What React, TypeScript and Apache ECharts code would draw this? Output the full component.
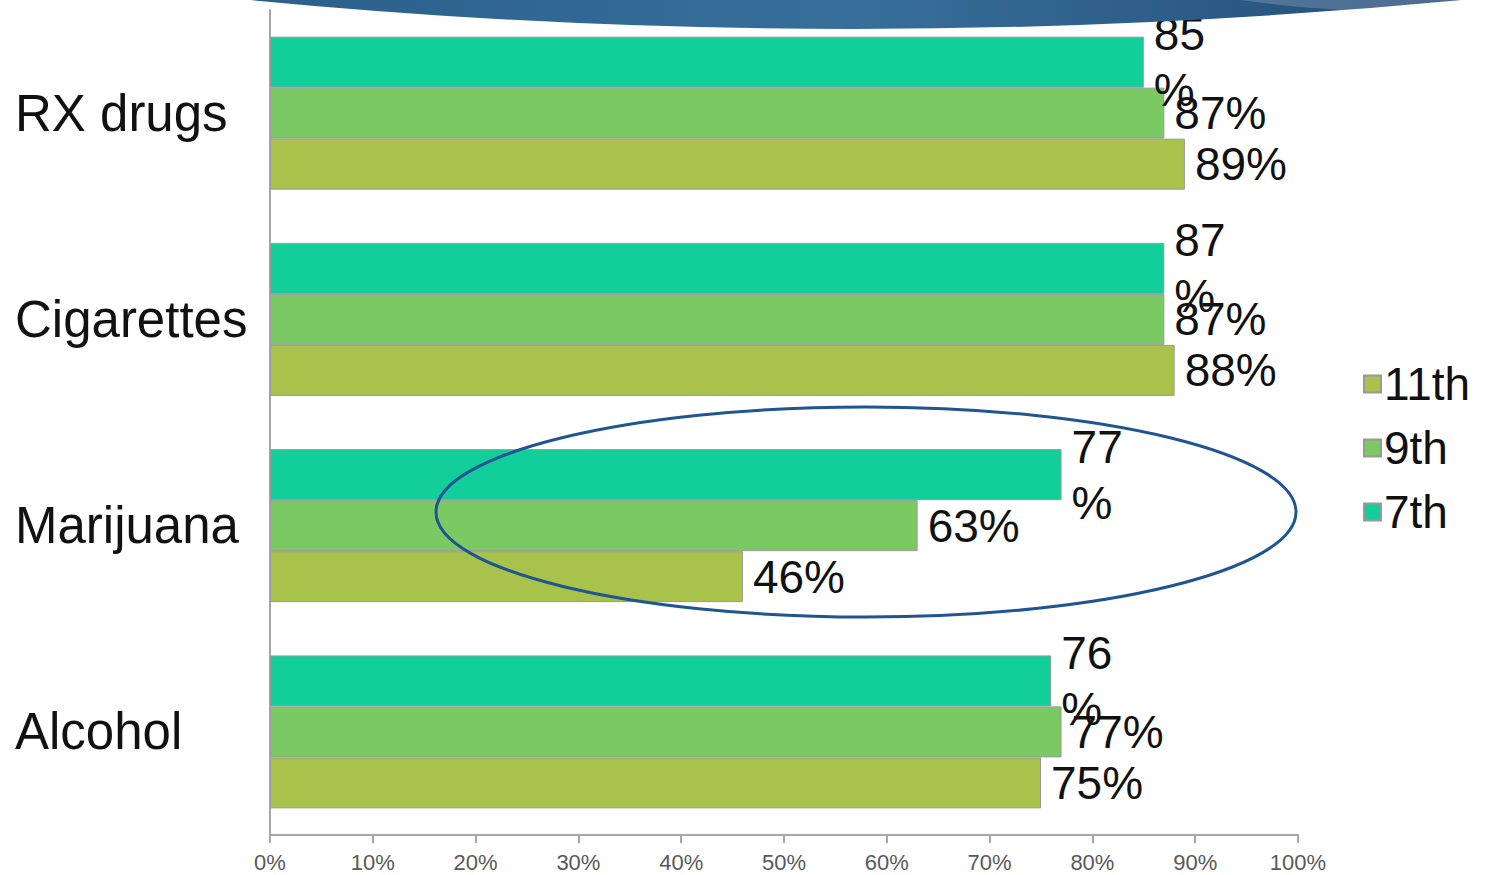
import React, { useEffect, useRef } from "react";
import * as echarts from "echarts";

const categories = ["Alcohol", "Marijuana", "Cigarettes", "RX drugs"];
const seriesNames = ["11th", "9th", "7th"];
const values11th = [75, 46, 88, 89];
const values9th = [77, 63, 87, 87];
const values7th = [76, 77, 87, 85];
const xTicks = [0, 10, 20, 30, 40, 50, 60, 70, 80, 90, 100];

const colors = ["#A9C24B", "#7BC962", "#12CE9A"];
const FONT = "'Liberation Sans', Arial, sans-serif";

echarts.graphic.registerShape(
  "banner",
  echarts.graphic.extendPath("M250,0 Q850,58 1462,0 Z", {})
);
echarts.graphic.registerShape(
  "bannerHi",
  echarts.graphic.extendPath("M1240,0 Q1400,22 1462,0 Z", {})
);

export default function App() {
  const ref = useRef<HTMLDivElement>(null);
  useEffect(() => {
    const chart = echarts.init(ref.current!, null, { renderer: "svg" });
    const labelBase = {
      show: true,
      position: "right",
      distance: 10,
      fontSize: 46,
      color: "#111",
      fontFamily: FONT,
    };
    const mk = (name: string, data: number[], color: string, wrap: boolean) => ({
      name,
      type: "bar",
      data,
      barWidth: 51,
      barGap: "0%",
      itemStyle: { color, borderColor: "#9a9a9a", borderWidth: 1 },
      label: {
        ...labelBase,
        lineHeight: 56,
        formatter: (p: any) => (wrap ? p.value + "\n%" : p.value + "%"),
      },
      z: 2,
    });
    chart.setOption({
      animation: false,
      backgroundColor: "#ffffff",
      grid: { left: 270, top: 10, width: 1028, height: 825 },
      xAxis: {
        type: "value",
        min: 0,
        max: 100,
        interval: 10,
        splitLine: { show: false },
        axisLine: { show: true, lineStyle: { color: "#a6a6a6", width: 2 } },
        axisTick: { show: true, length: 8, lineStyle: { color: "#a6a6a6", width: 2 } },
        axisLabel: {
          formatter: "{value}%",
          fontSize: 22,
          color: "#595959",
          margin: 16,
          fontFamily: FONT,
          customValues: xTicks,
        },
      },
      yAxis: {
        type: "category",
        data: categories,
        axisLine: { show: true, lineStyle: { color: "#a6a6a6", width: 2 } },
        axisTick: { show: false },
        axisLabel: {
          align: "left",
          margin: 255,
          fontSize: 51,
          color: "#111",
          fontFamily: FONT,
        },
      },
      legend: {
        data: seriesNames,
        orient: "vertical",
        left: 1358,
        top: 356,
        icon: "rect",
        itemWidth: 17,
        itemHeight: 17,
        itemGap: 18,
        textStyle: { fontSize: 46, color: "#111", fontFamily: FONT, padding: [0, 0, 0, -2] },
      },
      series: [
        mk("7th", values7th, colors[2], true),
        mk("9th", values9th, colors[1], false),
        mk("11th", values11th, colors[0], false),
      ],
      graphic: [
        {
          type: "banner",
          x: 0,
          y: 0,
          z: 100,
          style: {
            fill: new echarts.graphic.LinearGradient(0, 0, 1, 0, [
              { offset: 0, color: "#2b5f8c" },
              { offset: 0.5, color: "#376f9a" },
              { offset: 1, color: "#244c78" },
            ]),
          },
        },
        {
          type: "bannerHi",
          x: 0,
          y: 0,
          z: 101,
          style: { fill: "rgba(255,255,255,0.18)" },
        },
        {
          type: "ellipse",
          z: 100,
          shape: { cx: 866, cy: 512, rx: 430, ry: 105 },
          style: { fill: "none", stroke: "#1f5591", lineWidth: 3 },
        },
      ],
    });
    return () => chart.dispose();
  }, []);
  return (
    <div
      ref={ref}
      style={{ position: "absolute", left: 0, top: 0, width: 1488, height: 875 }}
    />
  );
}
